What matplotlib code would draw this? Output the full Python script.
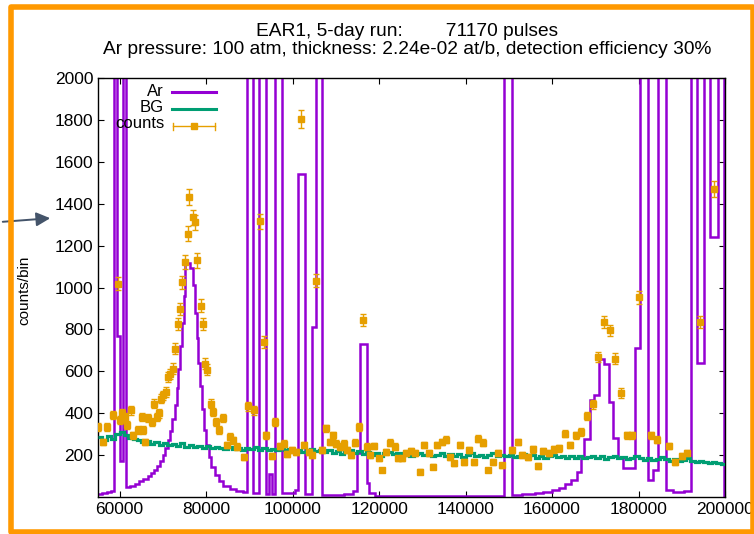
import numpy as np
import matplotlib
matplotlib.use("Agg")
import matplotlib.pyplot as plt
from matplotlib.patches import Rectangle, FancyArrowPatch
from matplotlib.lines import Line2D

plt.rcParams["font.family"] = ["Liberation Sans", "DejaVu Sans"]

PURPLE = "#9400D3"
GREEN = "#009E73"
ORANGE = "#E69F00"

# Expected Ar spectrum (step histogram: bin edges and counts per bin)
ar_edges = [55000, 56000, 57000, 58000, 58600, 59500, 60200, 60700, 61500,
            62500, 63500, 64500, 65500, 66500, 67300, 68000, 68700, 69400,
            70000, 70600, 71200, 71700, 72200, 72700, 73200, 73600, 74000,
            74400, 74800, 75200, 76200, 77000, 77400, 77800, 78200, 78600,
            79000, 79500, 80000, 80600, 81200, 82000, 83000, 84000, 85500,
            87000, 88500, 89500, 90900, 92300, 93900, 94500, 95200, 95900,
            97500, 100500, 101300, 102800, 104600, 105500, 106900, 112000,
            114000, 115000, 115700, 117100, 117700, 119000, 148800, 150700,
            153000, 156000, 158000, 160000, 161500, 163000, 164500, 165700,
            166700, 167300, 168800, 169700, 170900, 172000, 173100, 174200,
            175200, 176300, 179200, 180300, 182200, 183300, 184500, 186300,
            188000, 190500, 192100, 193500, 195100, 196500, 198400, 199700,
            200500]
ar_counts = [15, 18, 22, 30, 2600, 770, 170, 2600,
             46, 54, 63, 74, 86, 100, 114, 130, 150, 172,
             200, 232, 270, 315, 370, 440, 520, 610, 720, 830, 960,
             1115, 1095, 1010, 880, 760, 640, 530, 420, 320,
             250, 190, 145, 105, 75, 52, 36, 27, 22,
             2600, 18, 2600, 15, 110, 15, 2600, 18, 35, 1540, 15, 810, 2600,
             10, 15, 30, 210, 730, 67, 20, 6, 2600,
             10, 14, 19, 25, 33, 45, 60, 82, 121, 184, 279, 462, 486,
             657, 635, 454, 281, 184, 138, 710, 2600, 81, 128, 2600,
             33, 22, 30, 2600, 640, 2600, 1240, 2600, 0]

# Background, 1000-wide bins starting at 55000
bg_start = 55000
bg_width = 1000
bg_counts = [285, 272, 290, 278, 300, 312, 295, 283, 276, 270,
             262, 268, 255, 262, 250, 258, 246, 252, 244, 256,
             240, 248, 238, 245, 235, 242, 232, 240, 236, 228,
             238, 230, 236, 226, 234, 228, 238, 225, 232, 222,
             230, 226, 234, 222, 228, 218, 226, 214, 222, 230,
             220, 226, 216, 222, 210, 218, 206, 214, 222, 212,
             218, 206, 214, 202, 210, 198, 208, 216, 204, 212,
             200, 208, 196, 204, 212, 200, 206, 194, 202, 210,
             198, 206, 196, 204, 192, 200, 208, 196, 202, 192,
             200, 208, 196, 202, 194, 200, 192, 198, 206, 194,
             200, 188, 196, 186, 194, 200, 190, 196, 186, 194,
             188, 196, 184, 192, 198, 188, 194, 182, 190, 196,
             186, 192, 180, 188, 194, 184, 178, 186, 176, 182,
             190, 180, 172, 180, 170, 176, 184, 174, 166, 174,
             168, 160, 168, 162, 158]

# Measured counts per bin
counts_x = [55100, 56200, 57000, 58500, 59700, 60100, 60500, 61300, 61600, 62600,
            63200, 64300, 65100, 65500, 65900, 66600, 67400, 68000, 68600, 69000,
            69500, 70100, 70700, 71300, 71700, 72300, 72800, 73400, 74000, 74500,
            75100, 75700, 76100, 76900, 77500, 78000, 78800, 79200, 79800, 80300,
            81100, 81700, 82300, 82900, 83900, 84800, 85600, 86300, 87100, 88800,
            89600, 91000, 92400, 93300, 93900, 95200, 96000, 97200, 98100, 98800,
            99900, 100900, 101900, 102700, 103700, 104500, 105300, 106800, 107800, 108600,
            109400, 110100, 111000, 111800, 112600, 113500, 114500, 115400, 116300, 117100,
            118000, 118900, 119900, 120700, 121700, 122600, 123600, 124300, 125300, 126300,
            127300, 128400, 129400, 130300, 131500, 132500, 133400, 134600, 135500, 136500,
            137400, 138700, 139600, 140800, 141900, 142800, 144100, 145200, 146400, 147500,
            148500, 150800, 152100, 153100, 154400, 155600, 156800, 158000, 159300, 160400,
            161600, 163000, 164200, 165500, 166800, 168000, 169400, 170600, 172000, 173300,
            174600, 175900, 177300, 178600, 180100, 182800, 184200, 187100, 188500, 190000,
            191300, 194300, 197400]
counts_y = [335, 263, 335, 390, 1018, 367, 399, 382, 343, 414,
            295, 319, 382, 319, 263, 375, 359, 446, 382, 399,
            470, 486, 501, 573, 589, 613, 708, 827, 898, 1025,
            1120, 1256, 1433, 1335, 1311, 1129, 914, 824, 637, 608,
            446, 406, 359, 319, 375, 248, 287, 271, 240, 192,
            433, 414, 1316, 740, 295, 195, 359, 243, 255, 204,
            224, 216, 1803, 248, 216, 200, 1033, 224, 327, 263,
            295, 255, 240, 255, 224, 200, 259, 335, 843, 240,
            200, 243, 184, 129, 216, 259, 240, 184, 184, 208,
            220, 208, 121, 248, 208, 144, 248, 263, 274, 192,
            160, 248, 168, 224, 168, 279, 259, 129, 168, 211,
            152, 224, 263, 200, 192, 227, 148, 220, 208, 227,
            232, 303, 248, 295, 311, 386, 443, 668, 835, 795,
            660, 497, 295, 295, 954, 295, 274, 243, 168, 195,
            208, 835, 1470]

x_ticks = [60000, 80000, 100000, 120000, 140000, 160000, 180000, 200000]
y_ticks = [200, 400, 600, 800, 1000, 1200, 1400, 1600, 1800, 2000]

title_1 = "EAR1, 5-day run:        71170 pulses"
title_2 = "Ar pressure: 100 atm, thickness: 2.24e-02 at/b, detection efficiency 30%"

W, H = 754, 534
fig = plt.figure(figsize=(W / 100, H / 100), dpi=100)


def fx(x):
    return x / W


def fy(y):
    return 1 - y / H


ax = fig.add_axes([fx(98), fy(497), (725 - 98) / W, (497 - 78) / H])

bg_edges = bg_start + bg_width * np.arange(len(bg_counts) + 1)
ax.stairs(ar_counts, ar_edges, baseline=None, color=PURPLE, lw=1.8, zorder=2)
ax.stairs(bg_counts, bg_edges, baseline=None, color=GREEN, lw=2.3, zorder=3)
cy = np.array(counts_y, dtype=float)
ax.errorbar(counts_x, cy, yerr=np.sqrt(cy), fmt="s", ms=5, color=ORANGE,
            ecolor=ORANGE, elinewidth=1.0, capsize=2.5, capthick=1.0, zorder=4)

ax.set_xlim(55000, 200000)
ax.set_ylim(0, 2000)
ax.set_xticks(x_ticks)
ax.set_xticklabels([str(t) for t in x_ticks])
ax.set_yticks(y_ticks)
ax.set_yticklabels([str(t) for t in y_ticks])
ax.tick_params(direction="in", top=True, right=True, length=4, width=0.8,
               labelsize=12.5, pad=3.5)
for s in ax.spines.values():
    s.set_linewidth(1.0)

fig.text(fx(24), fy(290), "counts/bin", rotation=90, ha="center", va="center",
         fontsize=11)
fig.text(fx(407), fy(32), title_1, ha="center", va="center", fontsize=13.8)
fig.text(fx(407), fy(49), title_2, ha="center", va="center", fontsize=13.8)

# Key: label on the left, sample on the right
rows = [("Ar", 91), ("BG", 108), ("counts", 124)]
for label, yy in rows:
    fig.text(fx(164), fy(yy), label, ha="right", va="center", fontsize=12)
fig.add_artist(Line2D([fx(172), fx(216)], [fy(92)] * 2, color=PURPLE, lw=2.2,
                      transform=fig.transFigure))
fig.add_artist(Line2D([fx(172), fx(216)], [fy(109)] * 2, color=GREEN, lw=2.2,
                      transform=fig.transFigure))
fig.add_artist(Line2D([fx(173), fx(215)], [fy(126)] * 2, color=ORANGE, lw=1.0,
                      transform=fig.transFigure))
for cxp in (173, 215):
    fig.add_artist(Line2D([fx(cxp)] * 2, [fy(122.5), fy(129.5)], color=ORANGE,
                          lw=1.0, transform=fig.transFigure))
fig.add_artist(Line2D([fx(194)], [fy(126)], marker="s", ms=5, color=ORANGE,
                      transform=fig.transFigure))

# Pointer arrow and slide frame
fig.add_artist(FancyArrowPatch((fx(0), fy(222)), (fx(53), fy(218)),
                               transform=fig.transFigure,
                               arrowstyle="-|>,head_length=0.6,head_width=0.3",
                               mutation_scale=14, color="#44546A", lw=1.4))
fig.add_artist(Rectangle((fx(10.5), fy(531.5)), fx(752.5) - fx(10.5),
                         fy(7) - fy(531.5), transform=fig.transFigure,
                         fill=False, ec="#FF9900", lw=4.0, joinstyle="round"))

fig.savefig("out.png", dpi=100)
